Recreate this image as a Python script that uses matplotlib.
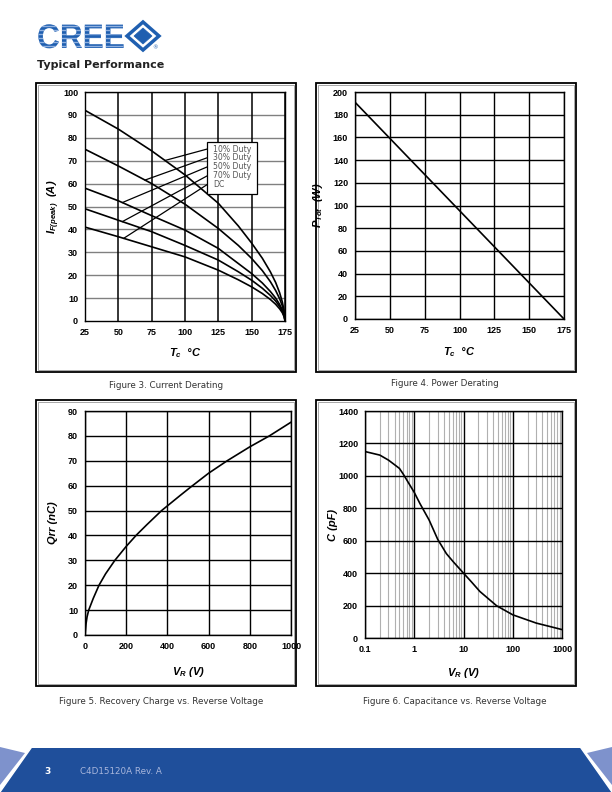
import numpy as np
import matplotlib
matplotlib.use('Agg')
import matplotlib.pyplot as plt
from matplotlib.patches import Rectangle, Polygon, PathPatch
from matplotlib.textpath import TextPath
from matplotlib.font_manager import FontProperties
from matplotlib.transforms import Affine2D
from matplotlib.ticker import FixedLocator, FuncFormatter

plt.rcParams['mathtext.fontset'] = 'custom'
plt.rcParams['mathtext.it'] = 'Liberation Sans:italic:bold'
plt.rcParams['mathtext.rm'] = 'Liberation Sans:italic:bold'
plt.rcParams['mathtext.bf'] = 'Liberation Sans:italic:bold'

# Figure 3 - current derating
tc = [25, 50, 75, 100, 125, 140, 150, 158, 164, 168, 171, 173, 174.5, 175]
i_duty10 = [92, 83.8, 74.3, 63.8, 51.4, 41.5, 34, 27.4, 21.5, 16.8, 12.3, 8.3, 3.9, 0]
i_duty30 = [75, 67.7, 60, 51, 40.4, 33.0, 27.3, 22.0, 17.2, 13.3, 9.7, 6.6, 3.0, 0]
i_duty50 = [58, 52.5, 46, 39.7, 31.7, 25.1, 20.7, 16.6, 12.9, 10.0, 7.2, 4.8, 2.2, 0]
i_duty70 = [49, 44, 39, 33, 26.6, 21.5, 17.8, 14.3, 11.2, 8.7, 6.3, 4.3, 2.0, 0]
i_dc = [41, 36.8, 32.4, 28, 22.2, 18.0, 14.9, 12.0, 9.4, 7.3, 5.3, 3.6, 1.6, 0]
duty_labels = ['10% Duty', '30% Duty', '50% Duty', '70% Duty', 'DC']

# Figure 4 - power derating
tc_p = [25, 175]
p_tot = [191, 0]

# Figure 5 - recovery charge
vr_q = [0, 5, 10, 18, 40, 68, 100, 145, 200, 250, 300, 372, 461, 511, 600, 690, 800, 895, 1000]
qrr = [0, 4.5, 7.3, 10, 14.7, 20, 24.6, 30, 35.6, 40.2, 44.3, 50, 56, 59.3, 65, 70, 75.6, 80, 85.5]

# Figure 6 - capacitance
vr_c = [0.1, 0.2, 0.3, 0.5, 0.6, 1, 1.3, 2, 3, 4.5, 6.2, 10, 14.6, 21.5, 47, 100, 300, 1000]
cap = [1150, 1128, 1097, 1046, 1010, 898, 830, 728, 608, 520, 470, 400, 345, 287, 199, 143, 92, 52]

W, H = 612, 792
fig = plt.figure(figsize=(6.12, 7.92), dpi=100)

# page overlay in pixel coords
ov = fig.add_axes([0, 0, 1, 1])
ov.set_xlim(0, W)
ov.set_ylim(H, 0)
ov.axis('off')

# logo
blue = '#1f5fb0'
tp = TextPath((0, 0), 'CREE', size=34, prop=FontProperties(family='Liberation Sans', weight='bold'))
logo = PathPatch(tp, fc=blue, ec='none',
                 transform=Affine2D().scale(0.93, -1).translate(37, 48) + ov.transData)
ov.add_patch(logo)
for yy in [26, 30, 34, 38, 42, 46]:
    ln, = ov.plot([30, 130], [yy, yy], color='#8fb0df', lw=1.0)
    ln.set_clip_path(logo)
ov.add_patch(Polygon([[127, 36], [143, 22], [159, 36], [143, 50]], closed=True,
                     fc='none', ec=blue, lw=2.5))
ov.add_patch(Polygon([[134, 36], [143, 28], [152, 36], [143, 44]], closed=True,
                     fc=blue, ec=blue, lw=0.5))
ov.text(155, 48, '®', fontsize=4, color=blue, ha='center', va='center')
ov.text(37, 68, 'Typical Performance', fontsize=8, fontweight='bold', color='#222222',
        family='DejaVu Sans', va='baseline')

# chart frames
for x0, y0, x1, y1 in [(36, 83, 296, 372), (316, 83, 576, 372),
                       (36, 400, 296, 686), (316, 400, 576, 686)]:
    ov.add_patch(Rectangle((x0, y0), x1 - x0, y1 - y0, fc='none', ec='black', lw=1.3))
    ov.add_patch(Rectangle((x0 + 2, y0 + 2), x1 - x0 - 4, y1 - y0 - 4, fc='none',
                           ec='#999999', lw=0.6))

cap_kw = dict(fontsize=6.3, color='#333333', ha='center', va='center', family='DejaVu Sans')
ov.text(166, 385, 'Figure 3. Current Derating', **cap_kw)
ov.text(445, 384, 'Figure 4. Power Derating', **cap_kw)
ov.text(161, 701, 'Figure 5. Recovery Charge vs. Reverse Voltage', **cap_kw)
ov.text(455, 701, 'Figure 6. Capacitance vs. Reverse Voltage', **cap_kw)

# footer
dark = '#1f4f9b'
light = '#7e92cc'
ov.add_patch(Polygon([[31, 748], [581, 748], [612, 792], [0, 792]], closed=True, fc=dark, ec='none'))
ov.add_patch(Polygon([[0, 747], [25, 753], [0, 785]], closed=True, fc=light, ec='none'))
ov.add_patch(Polygon([[612, 747], [587, 753], [612, 785]], closed=True, fc=light, ec='none'))
ov.plot([31, 0], [748, 792], color='white', lw=1)
ov.plot([581, 612], [748, 792], color='white', lw=1)
ov.text(44, 771, '3', fontsize=6.5, fontweight='bold', color='white', va='center')
ov.text(80, 771, 'C4D15120A Rev. A', fontsize=6.3, color='#a8b6dc', va='center')


def make_ax(l, r, t, b):
    a = fig.add_axes([l / W, 1 - b / H, (r - l) / W, (b - t) / H])
    a.set_facecolor('none')
    a.tick_params(length=0, pad=5)
    for s in a.spines.values():
        s.set_linewidth(1.0)
    return a


lab_font = dict(family='Liberation Sans', weight='bold', style='italic', size=8)


def style_ticks(a):
    for lab in a.get_xticklabels() + a.get_yticklabels():
        lab.set_fontfamily(['Liberation Sans Narrow', 'Liberation Sans'])
        lab.set_fontweight('bold')
        lab.set_fontsize(6.5)


# ---- Figure 3
ax1 = make_ax(85, 285, 92, 321)
curves = [i_duty10, i_duty30, i_duty50, i_duty70, i_dc]
for c in curves:
    ax1.plot(tc, c, color='black', lw=1.2)
ax1.set_xlim(25, 175)
ax1.set_ylim(0, 100)
ax1.set_xticks(np.arange(25, 176, 25))
ax1.set_yticks(np.arange(0, 101, 10))
for v in np.arange(10, 101, 10):
    ax1.axhline(v, color='#808080', lw=1.0, zorder=0)
for v in np.arange(50, 176, 25):
    ax1.axvline(v, color='black', lw=1.1, zorder=0)
style_ticks(ax1)
ax1.set_xlabel(r'$T_c$  °C', **lab_font)
ax1.set_ylabel(r'$I_{F(peak)}$  (A)', **lab_font)
ax1.xaxis.set_label_coords(0.5, -0.11)
ax1.yaxis.set_label_coords(-0.115, 0.5)

# legend box with leader lines
ax1.add_patch(Rectangle((116.7, 55.3), 154.2 - 116.7, 78.0 - 55.3, fc='white', ec='black',
                        lw=0.9, zorder=3))
text_y = [75.1, 71.3, 67.3, 63.4, 59.6]
lead_x = [85, 70, 53, 53, 54]
for lab, ty, lx, c in zip(duty_labels, text_y, lead_x, curves):
    ax1.text(121.2, ty, lab, fontsize=5.6, color='#555555', family='DejaVu Sans',
             va='center', ha='left', zorder=4)
    ax1.plot([lx, 116.7], [np.interp(lx, tc, c), ty], color='black', lw=0.9, zorder=2)

# ---- Figure 4
ax2 = make_ax(355, 564, 92, 319)
ax2.plot(tc_p, p_tot, color='black', lw=1.2)
ax2.set_xlim(25, 175)
ax2.set_ylim(0, 200)
ax2.set_xticks(np.arange(25, 176, 25))
ax2.set_yticks(np.arange(0, 201, 20))
ax2.grid(True, color='black', lw=1.0)
ax2.set_axisbelow(True)
style_ticks(ax2)
ax2.set_xlabel(r'$T_c$  °C', **lab_font)
ax2.set_ylabel(r'$P_{Tot}$  (W)', **lab_font)
ax2.xaxis.set_label_coords(0.5, -0.115)
ax2.yaxis.set_label_coords(-0.144, 0.5)

# ---- Figure 5
ax3 = make_ax(85, 291, 411, 635)
ax3.plot(vr_q, qrr, color='black', lw=1.2)
ax3.set_xlim(0, 1000)
ax3.set_ylim(0, 90)
ax3.set_xticks(np.arange(0, 1001, 200))
ax3.set_yticks(np.arange(0, 91, 10))
ax3.grid(True, color='black', lw=1.0)
ax3.set_axisbelow(True)
style_ticks(ax3)
ax3.set_xlabel('$V_R$ (V)', **lab_font)
ax3.set_ylabel('Qrr (nC)', **lab_font)
ax3.xaxis.set_label_coords(0.5, -0.134)
ax3.yaxis.set_label_coords(-0.133, 0.5)

# ---- Figure 6
ax4 = make_ax(365, 562, 411, 638)
ax4.plot(vr_c, cap, color='black', lw=1.2)
ax4.set_xscale('log')
ax4.set_xlim(0.1, 1000)
ax4.set_ylim(0, 1400)
ax4.set_yticks(np.arange(0, 1401, 200))
ax4.xaxis.set_major_locator(FixedLocator([0.1, 1, 10, 100, 1000]))
ax4.xaxis.set_major_formatter(FuncFormatter(lambda v, p: '{:g}'.format(v)))
ax4.xaxis.set_minor_formatter(FuncFormatter(lambda v, p: ''))
ax4.grid(True, which='major', color='black', lw=1.0)
ax4.grid(True, which='minor', axis='x', color='#b0b0b0', lw=0.8)
ax4.tick_params(which='minor', length=0)
ax4.set_axisbelow(True)
style_ticks(ax4)
ax4.set_xlabel('$V_R$ (V)', **lab_font)
ax4.set_ylabel('C (pF)', **lab_font)
ax4.xaxis.set_label_coords(0.5, -0.123)
ax4.yaxis.set_label_coords(-0.137, 0.5)

fig.savefig('out.png', dpi=100)
